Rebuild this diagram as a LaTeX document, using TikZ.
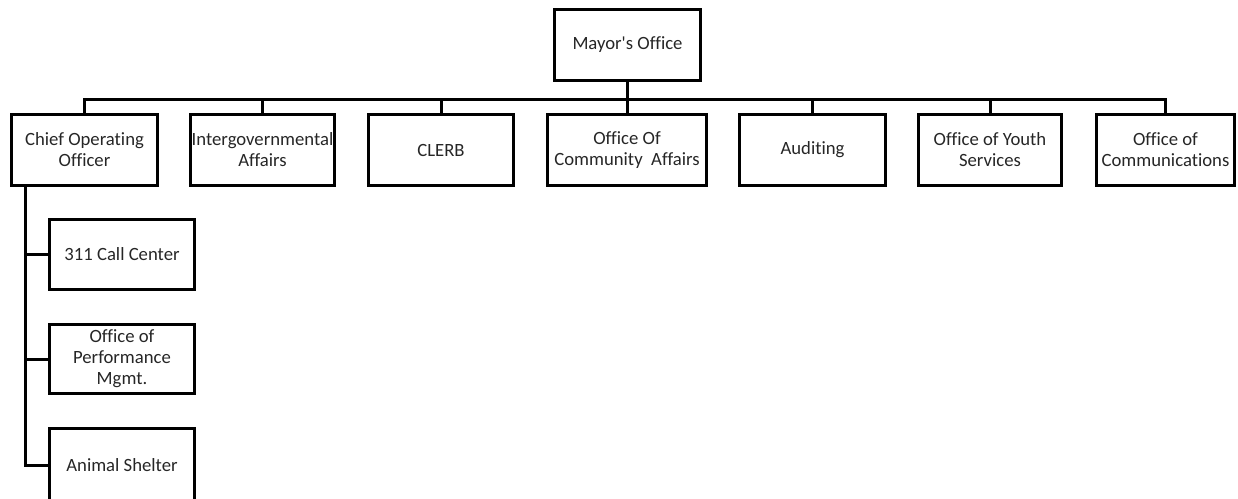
\documentclass[tikz,border=0pt]{standalone}
\usepackage{fontspec}
\setmainfont{Carlito}[Ligatures=NoCommon]
\usepackage{tikz}
\usetikzlibrary{positioning}
\usetikzlibrary{calc}
\newcommand\boxfont{\fontsize{18.7}{21}\selectfont}
\begin{document}
\begin{tikzpicture}[x=1pt,y=-1pt,line width=3pt,
  box/.style={draw,rectangle,inner sep=0pt,align=center,minimum width=143pt,minimum height=71pt,font=\boxfont,text=black!85}]
\useasboundingbox (0,0) rectangle (1238,498);
\clip (0,0) rectangle (1238,498);
%mayor
\node (m) at (627.5,45) [box,minimum width=146pt] {Mayor\textquotesingle s Office};

%departments under the mayor
\node (0) at (84.5,150) [box,minimum width=146pt] {Chief Operating\\Officer};
\node (1) at (262.5,150) [box,minimum width=144pt] {Intergovernmental\\Affairs};
\node (2) at (441,150) [box,minimum width=145pt] {CLERB};
\node (3) at (627,150) [box,minimum width=159pt] {Office Of\\Community~ Affairs};
\node (4) at (812.5,150) [box,minimum width=146pt] {Auditing};
\node (5) at (990,150) [box,minimum width=143pt] {Office of Youth\\Services};
\node (6) at (1165.5,150) [box,minimum width=138pt] {Office of\\Communications};
%bus from mayor to departments
\foreach \i in {0,...,6}{
    \draw (m.south) -- ++(0,17.5) -| (\i.north);
}

%offices under the coo
\node (7) at (122,254.5) [box,minimum width=145pt,minimum height=70pt] {311 Call Center};
\node (8) at (122,359) [box,minimum width=145pt,minimum height=69pt] {Office of\\Performance\\Mgmt.};
\node (9) at (122,465) [box,minimum width=145pt,minimum height=74pt] {Animal Shelter};
%trunk down from the coo
\coordinate (c) at ([xshift=15.5pt]0.south west);
\foreach \i in {7,...,9}{
    \draw (c) |- (\i.west);
}
\end{tikzpicture}
\end{document}
